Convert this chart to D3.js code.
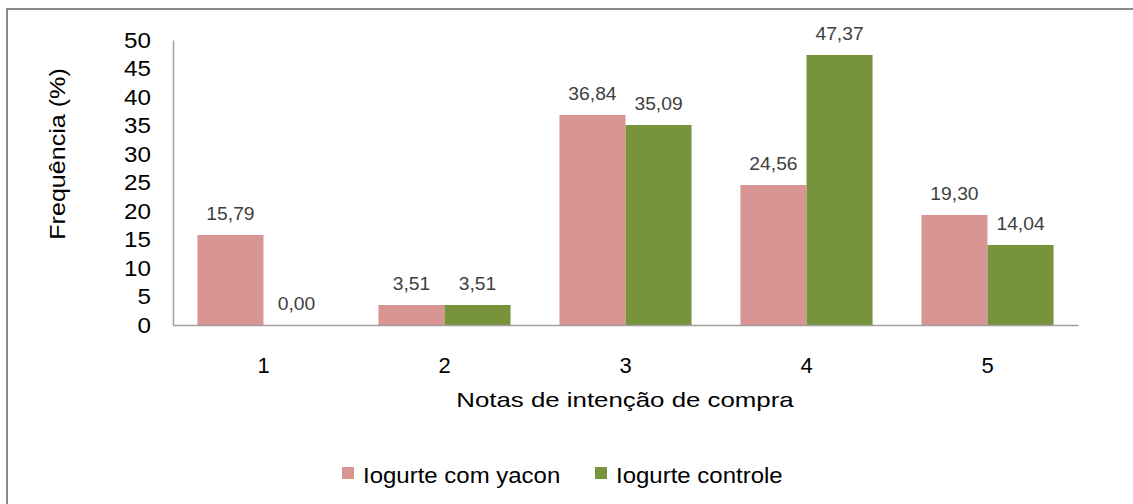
<!DOCTYPE html>
<html>
<head>
<meta charset="utf-8">
<script src="https://cdn.jsdelivr.net/npm/d3@7"></script>
<style>
  body { margin: 0; background: #fff; }
  svg { display: block; font-family: "Liberation Sans", Arial, sans-serif; }
</style>
</head>
<body>
<svg class="js-chart" width="1133" height="504"></svg>
<script>
var categories = ['1', '2', '3', '4', '5'],
    seriesNames = ['Iogurte com yacon', 'Iogurte controle'],
    yaconValues = [15.79, 3.51, 36.84, 24.56, 19.30],
    controleValues = [0.00, 3.51, 35.09, 47.37, 14.04],
    yTicks = [0, 5, 10, 15, 20, 25, 30, 35, 40, 45, 50],
    colors = ['#d99594', '#77933c'];

var svg = d3.select('.js-chart'),
    plotLeft = 173, plotRight = 1078, plotTop = 40, plotBottom = 325;

// widen text a bit, the original renderer draws wider glyphs
function stretch(sel, f) {
  sel.each(function() {
    var w = this.getComputedTextLength();
    d3.select(this).attr('textLength', w * f).attr('lengthAdjust', 'spacingAndGlyphs');
  });
}

// chart frame
svg.append('rect')
    .attr('x', 7).attr('y', 9)
    .attr('width', 1140).attr('height', 520)
    .attr('fill', 'none')
    .attr('stroke', '#8a8a8a')
    .attr('stroke-width', 2);

var x = d3.scaleBand().domain(categories).range([plotLeft, plotRight]);
var xSub = d3.scaleBand().domain([0, 1]).range([0, x.bandwidth()]).paddingOuter(0.37);
var y = d3.scaleLinear().domain([0, 50]).range([plotBottom, plotTop]);

var comma = d3.formatLocale({ decimal: ',', thousands: '.', grouping: [3], currency: ['', ''] }).format('.2f');

var data = categories.map(function(c, i) {
  return { cat: c, values: [yaconValues[i], controleValues[i]] };
});

// bars
var groups = svg.selectAll('g.cat')
    .data(data)
    .enter()
    .append('g')
    .attr('class', 'cat')
    .attr('transform', function(d) { return 'translate(' + x(d.cat) + ',0)'; });

groups.selectAll('rect')
    .data(function(d) { return d.values; })
    .enter()
    .append('rect')
    .attr('x', function(d, i) { return xSub(i); })
    .attr('y', function(d) { return y(d); })
    .attr('width', xSub.bandwidth())
    .attr('height', function(d) { return plotBottom - y(d); })
    .attr('fill', function(d, i) { return colors[i]; });

var labels = groups.selectAll('text')
    .data(function(d) { return d.values; })
    .enter()
    .append('text')
    .attr('x', function(d, i) { return xSub(i) + xSub.bandwidth() / 2; })
    .attr('y', function(d) { return y(d) - 15; })
    .attr('text-anchor', 'middle')
    .attr('font-size', 18)
    .attr('fill', '#404040')
    .text(function(d) { return comma(d); });
stretch(labels, 1.07);

// y axis
var yAxis = svg.append('g')
    .attr('transform', 'translate(' + plotLeft + ',0)')
    .call(d3.axisLeft(y).tickValues(yTicks).tickSize(0).tickPadding(22));
yAxis.select('.domain').attr('stroke', '#a0a0a0').attr('stroke-width', 1.5);
yAxis.selectAll('text').attr('font-size', 22).attr('fill', '#000').attr('font-family', null);
stretch(yAxis.selectAll('text'), 1.1);

// x axis
var xAxis = svg.append('g')
    .attr('transform', 'translate(0,' + plotBottom + ')')
    .call(d3.axisBottom(x).tickSize(0).tickPadding(32));
xAxis.select('.domain').attr('stroke', '#a0a0a0').attr('stroke-width', 1.5);
xAxis.selectAll('text').attr('font-size', 22).attr('fill', '#000').attr('font-family', null);

// axis titles
var xTitle = svg.append('text')
    .attr('x', 625)
    .attr('y', 407)
    .attr('text-anchor', 'middle')
    .attr('font-size', 21)
    .text('Notas de intenção de compra');
stretch(xTitle, 1.23);

var yTitle = svg.append('text')
    .attr('transform', 'translate(65,154) rotate(-90)')
    .attr('text-anchor', 'middle')
    .attr('font-size', 22)
    .text('Frequência (%)');
stretch(yTitle, 1.14);

// legend
var legendX = [342, 595];
var legend = svg.selectAll('g.legend')
    .data(seriesNames)
    .enter()
    .append('g')
    .attr('class', 'legend')
    .attr('transform', function(d, i) { return 'translate(' + legendX[i] + ',467)'; });
legend.append('rect')
    .attr('width', 12).attr('height', 12)
    .attr('fill', function(d, i) { return colors[i]; });
var legendText = legend.append('text')
    .attr('x', 21).attr('y', 16)
    .attr('font-size', 22)
    .text(function(d) { return d; });
stretch(legendText, 1.09);
</script>
</body>
</html>
